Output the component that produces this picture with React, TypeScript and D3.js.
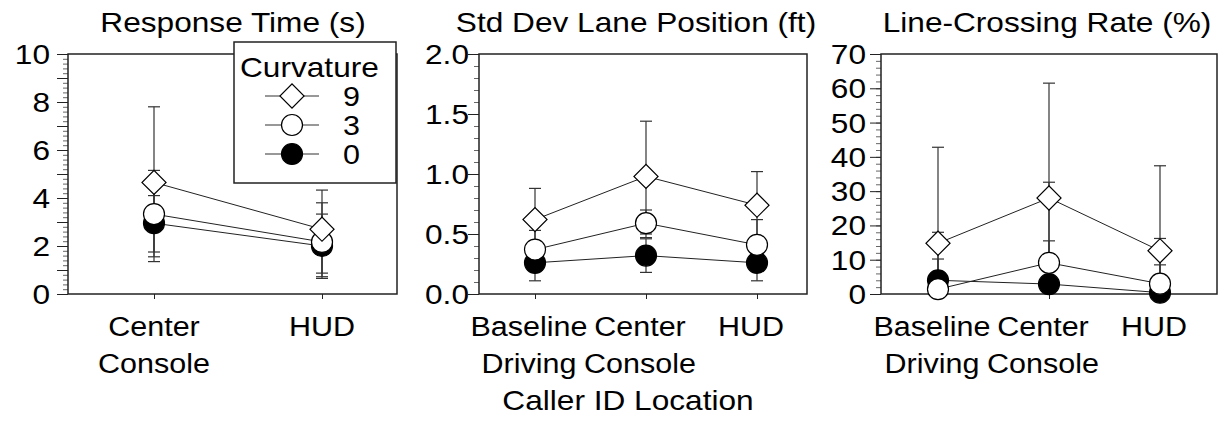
import { useEffect, useRef } from 'react'
import * as d3 from 'd3'

// curvature levels, in legend order
const curvatures = ['9', '3', '0']

// Response Time (s)
const rtCategories = ['Center Console', 'HUD']
const rtMean = [[4.65, 2.7], [3.33, 2.17], [2.95, 2.0]]
const rtHi = [[7.8, 4.33], [5.15, 3.8], [4.1, 3.33]]
const rtLo = [[1.35, 0.87], [1.55, 0.72], [1.75, 0.65]]
const rtTicks = [0, 2, 4, 6, 8, 10]

// Std Dev Lane Position (ft)
const sdCategories = ['Baseline Driving', 'Center Console', 'HUD']
const sdMean = [[0.62, 0.98, 0.74], [0.37, 0.59, 0.41], [0.26, 0.32, 0.26]]
const sdHi = [[0.88, 1.44, 1.02], [0.53, 0.7, 0.62], [0.4, 0.46, 0.4]]
const sdLo = [[0.36, 0.5, 0.46], [0.21, 0.47, 0.2], [0.11, 0.18, 0.11]]
const sdTicks = [0, 0.5, 1.0, 1.5, 2.0]

// Line-Crossing Rate (%)
const lcCategories = ['Baseline Driving', 'Center Console', 'HUD']
const lcMean = [[14.8, 28, 12.6], [1.4, 9.1, 3.0], [4.0, 2.9, 0.4]]
const lcHi = [[42.8, 61.5, 37.4], [18, 32.6, 16.2], [10.2, 15.5, 8.5]]
const lcLo = [[0, 0, 0], [0, 0, 0], [0, 0, 0]]
const lcTicks = [0, 10, 20, 30, 40, 50, 60, 70]

const FONT = '"Liberation Sans", Arial, Helvetica, sans-serif'
const STRETCH = 1.13
const W = 1218, H = 422
const top = 54, bottom = 294

const panels = [
    {
        title: 'Response Time (s)', titleX: 233, cats: rtCategories, mean: rtMean, hi: rtHi, lo: rtLo,
        ticks: rtTicks, max: 10, major: 1, minor: 0.2, fmt: d3.format('d'),
        left: 68, right: 397, padL: 86, padR: 75, labelGap: 18, catShift: 0
    },
    {
        title: 'Std Dev Lane Position (ft)', titleX: 636, cats: sdCategories, mean: sdMean, hi: sdHi, lo: sdLo,
        ticks: sdTicks, max: 2, major: 0.5, minor: 0.1, fmt: d3.format('.1f'),
        left: 479, right: 807, padL: 56, padR: 50, labelGap: 10, catShift: -6
    },
    {
        title: 'Line-Crossing Rate (%)', titleX: 1047, cats: lcCategories, mean: lcMean, hi: lcHi, lo: lcLo,
        ticks: lcTicks, max: 70, major: 10, minor: 2, fmt: d3.format('d'),
        left: 881, right: 1217, padL: 57, padR: 57, labelGap: 15, catShift: -6
    }
]

// Helvetica in the source renders wider than Liberation Sans, so text is stretched a little
function label(g: any, x: number, y: number, str: string, anchor = 'middle', size = 28) {
    return g.append('text')
        .attr('transform', `translate(${x},${y}) scale(${STRETCH},1)`)
        .attr('text-anchor', anchor)
        .style('font-family', FONT)
        .style('font-size', size + 'px')
        .attr('fill', '#000')
        .text(str)
}

export default function App() {
    const ref = useRef<SVGSVGElement>(null)

    useEffect(() => {
        const svg = d3.select(ref.current)
        svg.selectAll('*').remove()

        panels.forEach((p) => {
            const g = svg.append('g')

            const x = d3.scalePoint<string>()
                .domain(p.cats)
                .range([p.left + p.padL, p.right - p.padR])

            const y = d3.scaleLinear()
                .domain([0, p.max])
                .range([bottom, top])

            label(g, p.titleX, 32, p.title)

            // minor ticks
            const minorVals = d3.range(0, p.max + p.minor / 2, p.minor)
            g.append('g')
                .attr('transform', `translate(${p.left},0)`)
                .call(d3.axisLeft(y).tickValues(minorVals).tickSize(5).tickFormat(() => ''))
                .call((a) => a.select('.domain').remove())
                .selectAll('line').attr('stroke', '#666')

            // major ticks
            const majorVals = d3.range(0, p.max + p.major / 2, p.major)
            g.append('g')
                .attr('transform', `translate(${p.left},0)`)
                .call(d3.axisLeft(y).tickValues(majorVals).tickSize(11).tickFormat(() => ''))
                .call((a) => a.select('.domain').remove())
                .selectAll('line').attr('stroke', '#222')

            // tick labels
            p.ticks.forEach((v) => {
                label(g, p.left - p.labelGap, y(v) + 10, p.fmt(v), 'end')
            })

            // x axis ticks
            const xAxis = g.append('g')
                .attr('transform', `translate(0,${bottom})`)
                .call(d3.axisBottom(x).tickSize(5).tickFormat(() => ''))
            xAxis.select('.domain').remove()
            xAxis.selectAll('line').attr('stroke', '#222')

            // two-line category labels
            p.cats.forEach((c) => {
                c.split(' ').forEach((w, i) => {
                    label(g, x(c)! + p.catShift, 336 + i * 37, w, 'middle', 27)
                })
            })

            // frame
            g.append('rect')
                .attr('x', p.left)
                .attr('y', top)
                .attr('width', p.right - p.left)
                .attr('height', bottom - top)
                .attr('fill', 'none')
                .attr('stroke', '#222')
                .attr('stroke-width', 1.5)

            const order = [2, 1, 0]

            // error bars
            order.forEach((s) => {
                p.cats.forEach((c, i) => {
                    const cx = x(c)!
                    const bar = g.append('g').attr('stroke', '#333').attr('stroke-width', 1.2)
                    bar.append('line')
                        .attr('x1', cx).attr('x2', cx)
                        .attr('y1', y(p.lo[s][i])).attr('y2', y(p.hi[s][i]))
                    ;[p.lo[s][i], p.hi[s][i]].forEach((v) => {
                        if (v <= 0) return
                        bar.append('line')
                            .attr('x1', cx - 6).attr('x2', cx + 6)
                            .attr('y1', y(v)).attr('y2', y(v))
                    })
                })
            })

            // connecting lines
            const line = d3.line<number>()
                .x((_, i) => x(p.cats[i])!)
                .y((d) => y(d))
            order.forEach((s) => {
                g.append('path')
                    .attr('d', line(p.mean[s]))
                    .attr('fill', 'none')
                    .attr('stroke', '#222')
                    .attr('stroke-width', 1)
            })

            // markers
            order.forEach((s) => {
                p.mean[s].forEach((v, i) => {
                    drawMarker(g, curvatures[s], x(p.cats[i])!, y(v))
                })
            })
        })

        // shared axis title
        label(svg, 628, 410, 'Caller ID Location')

        // legend
        const lg = svg.append('g')
        lg.append('rect')
            .attr('x', 234).attr('y', 42)
            .attr('width', 162).attr('height', 141)
            .attr('fill', '#fff')
            .attr('stroke', '#222')
            .attr('stroke-width', 1.5)
        label(lg, 240, 77, 'Curvature', 'start')
        curvatures.forEach((c, i) => {
            const ly = 96 + i * 29
            lg.append('line')
                .attr('x1', 265).attr('x2', 319)
                .attr('y1', ly).attr('y2', ly)
                .attr('stroke', '#333').attr('stroke-width', 1.2)
            drawMarker(lg, c, 292, ly)
            label(lg, 343, ly + 10, c, 'start', 27)
        })
    }, [])

    return (
        <svg ref={ref} width={W} height={H}
            style={{ position: 'absolute', left: 0, top: 0, background: '#fff' }} />
    )
}

function drawMarker(g: any, curv: string, cx: number, cy: number) {
    if (curv === '9') {
        g.append('path')
            .attr('d', d3.symbol().type(d3.symbolSquare).size(290)())
            .attr('transform', `translate(${cx},${cy}) rotate(45)`)
            .attr('fill', '#fff')
            .attr('stroke', '#000')
            .attr('stroke-width', 1.2)
    } else {
        g.append('circle')
            .attr('cx', cx).attr('cy', cy)
            .attr('r', 10.5)
            .attr('fill', curv === '0' ? '#000' : '#fff')
            .attr('stroke', '#000')
            .attr('stroke-width', 1.2)
    }
}
